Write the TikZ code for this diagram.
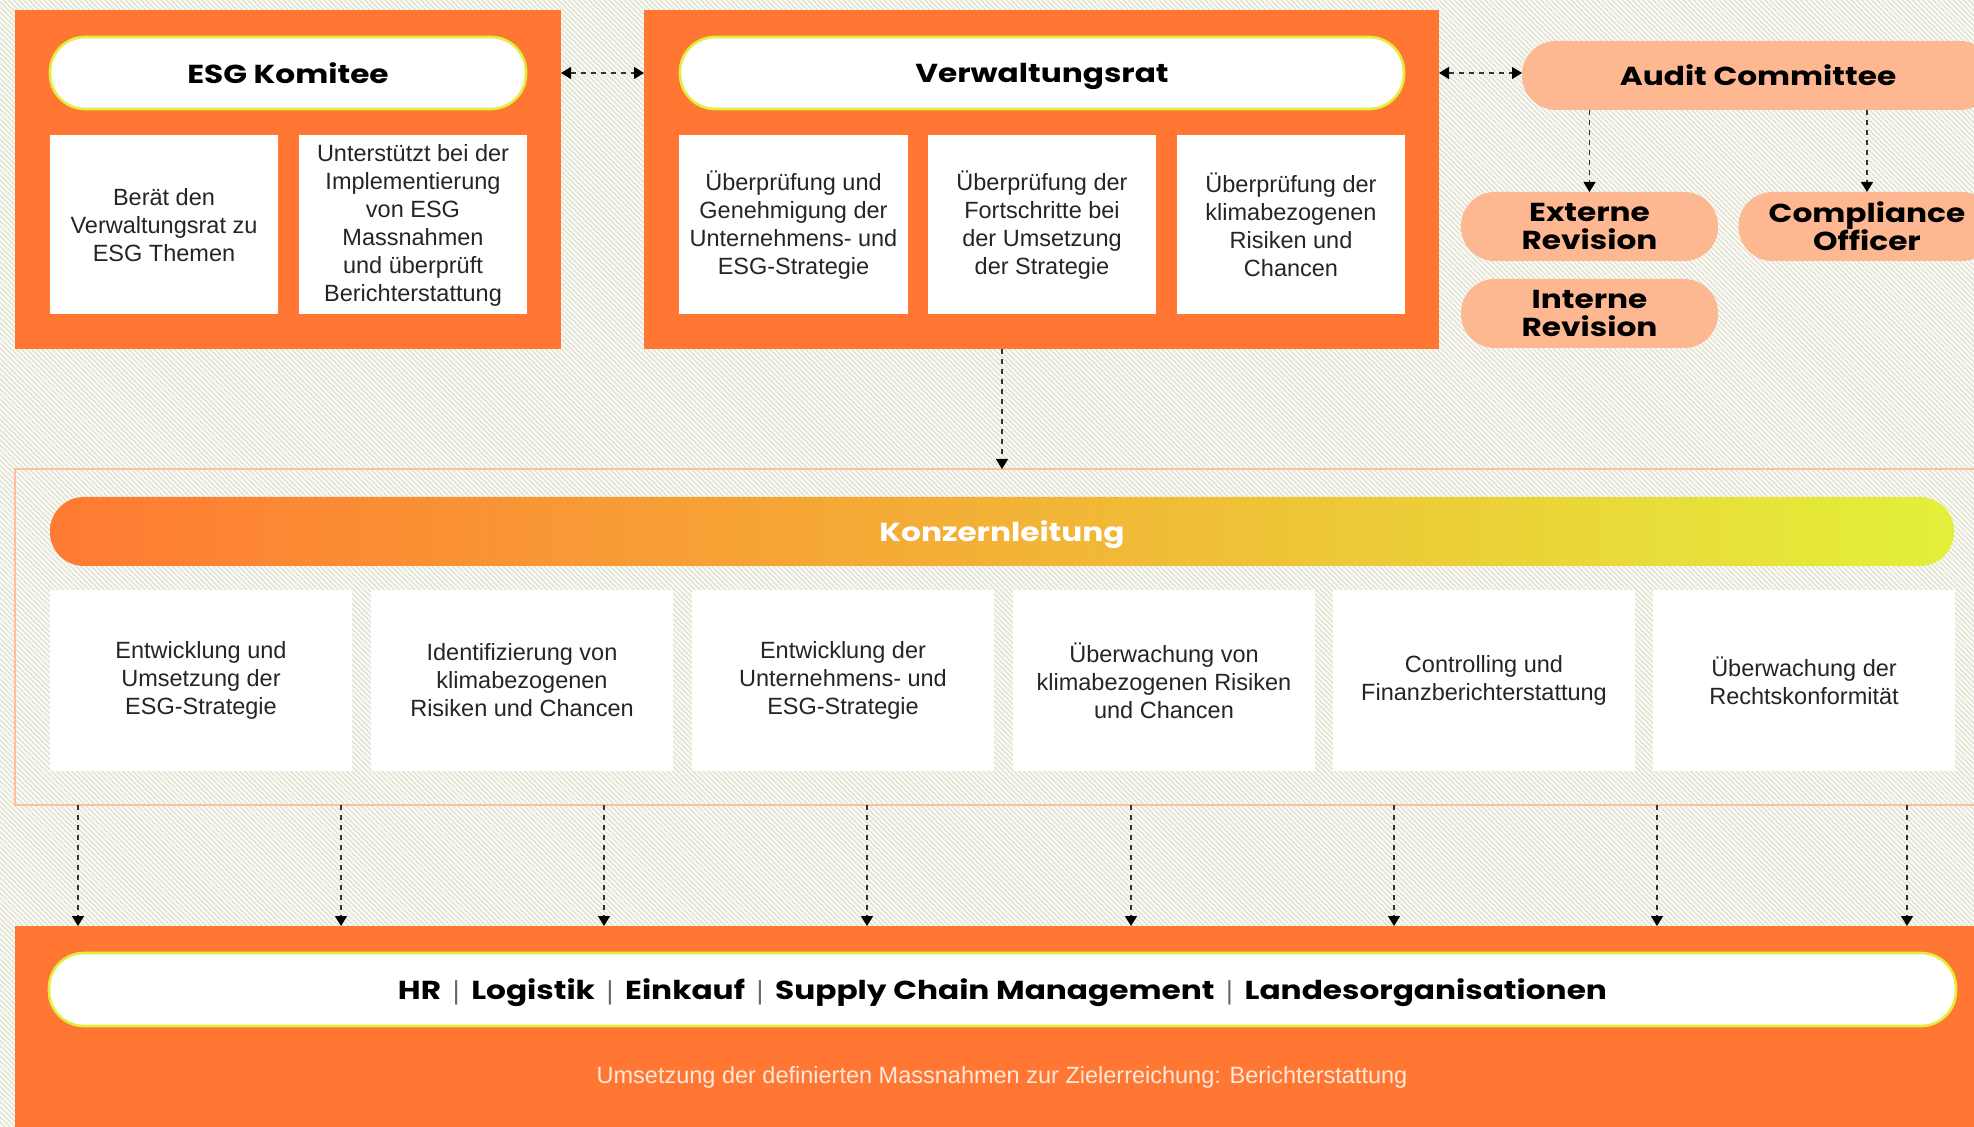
\documentclass[tikz,border=0pt]{standalone}
\usepackage{fontspec}
\setmainfont{Liberation Sans}
\newfontfamily\headfont{Poppins}[FakeStretch=1.2]
\usetikzlibrary{arrows.meta,patterns.meta}
\definecolor{orng}{HTML}{FF7732}
\definecolor{salmon}{HTML}{FDB892}
\definecolor{pillline}{HTML}{E1EE3B}
\definecolor{framec}{HTML}{FFBE9C}
\definecolor{bgc}{HTML}{FAFAF6}
\definecolor{stripe}{HTML}{E0E0CF}
\definecolor{kl}{HTML}{FF7A33}
\definecolor{km}{HTML}{F3B236}
\definecolor{kr}{HTML}{E3F03A}
\definecolor{txt}{HTML}{252525}
\definecolor{arrline}{HTML}{333333}
\definecolor{paletext}{HTML}{FFE9DC}
\definecolor{sepc}{HTML}{666666}
\newcommand\sepbar{\hspace{0.45em}{\rmfamily\mdseries\color{sepc}|}\hspace{0.45em}}
\begin{document}
\begin{tikzpicture}[x=0.5pt,y=-0.5pt,
  px/.style 2 args={minimum width=#1*0.5pt,minimum height=#2*0.5pt,inner sep=0pt,outer sep=0pt},
  orbox/.style={fill=orng,draw=none},
  wbox/.style={fill=white,draw=none},
  whitepill/.style={fill=white,draw=pillline,line width=1.3pt,rounded corners=17.5pt},
  salpill/.style={fill=salmon,draw=none,rounded corners=17pt},
  body/.style={font=\fontsize{11.75pt}{14pt}\selectfont,align=center,text=txt},
  title/.style={font=\headfont\bfseries\fontsize{13pt}{14pt}\selectfont,text=black,align=center},
  oneline/.style={text depth=0pt},
  darrone/.style={draw=arrline,line width=0.7pt,dash pattern=on 2.5pt off 2.5pt,-{Triangle[width=6pt,length=5pt,color=black]}},
  darrtwo/.style={draw=arrline,line width=0.7pt,dash pattern=on 2.5pt off 2.5pt,{Triangle[width=6pt,length=5pt,color=black]}-{Triangle[width=6pt,length=5pt,color=black]}}
]
\useasboundingbox (0,0) rectangle (1974,1127);
\clip (0,0) rectangle (1974,1127);
\fill[bgc] (0,0) rectangle (1974,1127);
\fill[pattern={Lines[angle=-45,distance=1.8pt,line width=0.6pt]},pattern color=stripe] (0,0) rectangle (1974,1127);

% ESG Komitee
\node[orbox,px={546}{339}] (esg) at (288,179.5) {};
\node[whitepill,px={476}{72},title,oneline] (esgpill) at (288,73) {ESG Komitee};
\node[wbox,px={228}{179},body] (esgA) at (164,225) {Berät den\\Verwaltungsrat zu\\ESG Themen};
\node[wbox,px={228}{179},body] (esgB) at (413,225) {Unterstützt bei der\\Implementierung\\von ESG\\Massnahmen\\und überprüft\\Berichterstattung};

% Verwaltungsrat
\node[orbox,px={795}{339}] (vr) at (1041.5,179.5) {};
\node[whitepill,px={724}{72},title,oneline] (vrpill) at (1042,73) {Verwaltungsrat};
\node[wbox,px={229}{179},body] (vrA) at (793.5,225) {Überprüfung und\\Genehmigung der\\Unternehmens- und\\ESG-Strategie};
\node[wbox,px={228}{179},body] (vrB) at (1042,225) {Überprüfung der\\Fortschritte bei\\der Umsetzung\\der Strategie};
\node[wbox,px={228}{179},body] (vrC) at (1291,225) {Überprüfung der\\klimabezogenen\\Risiken und\\Chancen};

% Audit
\node[salpill,px={472}{69},title,oneline] (audit) at (1758,75.5) {Audit Committee};
\node[salpill,px={257}{69},title] (ext) at (1589.5,226.5) {Externe\\Revision};
\node[salpill,px={257}{69},title] (int) at (1589.5,313.5) {Interne\\Revision};
\node[salpill,px={257}{69},title] (comp) at (1867,226.5) {Compliance\\Officer};

% Konzernleitung
\node[draw=framec,line width=1pt,px={1975}{336}] (kframe) at (1002.5,637) {};
\node[px={1904}{69},rounded corners=17pt,left color=kl,right color=kr,middle color=km,
      font=\headfont\bfseries\fontsize{13pt}{14pt}\selectfont,text=white,oneline] (kbar) at (1002,531.5) {Konzernleitung};
\node[wbox,px={302}{181},body] (kA) at (201,680.5) {Entwicklung und\\Umsetzung der\\ESG-Strategie};
\node[wbox,px={302}{181},body] (kB) at (522,680.5) {Identifizierung von\\klimabezogenen\\Risiken und Chancen};
\node[wbox,px={302}{181},body] (kC) at (843,680.5) {Entwicklung der\\Unternehmens- und\\ESG-Strategie};
\node[wbox,px={302}{181},body] (kD) at (1164,680.5) {Überwachung von\\klimabezogenen Risiken\\und Chancen};
\node[wbox,px={302}{181},body] (kE) at (1484,680.5) {Controlling und\\Finanzberichterstattung};
\node[wbox,px={302}{181},body] (kF) at (1804,680.5) {Überwachung der\\Rechtskonformität};

% Bottom
\node[orbox,px={1975}{214}] (bot) at (1002.5,1033) {};
\node[whitepill,px={1907}{73},title,oneline] (botpill) at (1002.5,989.5) {HR\sepbar Logistik\sepbar Einkauf\sepbar Supply Chain Management\sepbar Landesorganisationen};
\node[font=\fontsize{11.75pt}{14pt}\selectfont,text=paletext] (bottext) at (1002,1077) {Umsetzung der definierten Massnahmen zur Zielerreichung: Berichterstattung};

% Connectors
\draw[darrtwo] (esgpill -| esg.east) -- (esgpill -| vr.west);
\draw[darrtwo] (vrpill -| vr.east) -- (vrpill -| audit.west);
\draw[darrone] (audit.south -| ext.north) -- (ext.north);
\draw[darrone] (audit.south -| comp.north) -- (comp.north);
\draw[darrone] (vr.south -| kbar.north) -- (kframe.north -| kbar.north);
\foreach \x in {78,341,604,867,1131,1394,1657,1907}
  \draw[darrone] (kframe.south -| \x,0) -- (bot.north -| \x,0);
\end{tikzpicture}
\end{document}
